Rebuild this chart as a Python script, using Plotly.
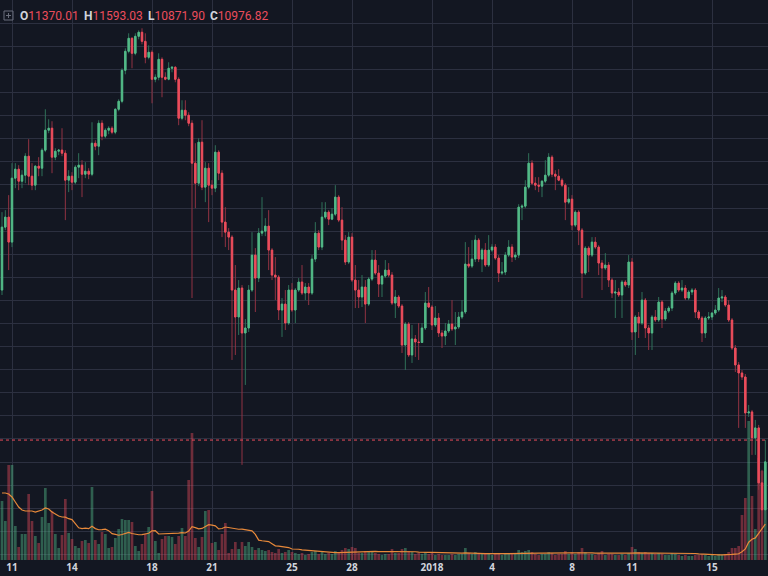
import pandas as pd
import numpy as np
import plotly.graph_objects as go

# ---------------- data (4h candles, BTC/USD) ----------------
start_time = "2017-12-10 12:00"
n_bars = 230

open_ = [14225, 15587, 15804, 15263, 16647, 16842, 16582, 16712, 17123, 16690,
         16496, 16907, 16864, 17253, 17686, 17729, 17102, 17231, 17255, 17188,
         16604, 16690, 16561, 16886, 16929, 16733, 16798, 16733, 17404, 17339,
         17837, 17556, 17686, 17729, 17643, 18139, 18312, 18983, 19394, 19676,
         19351, 19719, 19806, 19610, 19265, 19373, 18788, 18832, 19221, 18832,
         18790, 19027, 19049, 18788, 17945, 18118, 18010, 17837, 16972, 16539,
         17426, 16453, 16864, 16496, 16431, 17210, 16755, 15696, 15479, 15371,
         14225, 13641, 14268, 13295, 13403, 14225, 14982, 14484, 15457, 15500,
         15609, 15090, 14549, 14506, 13792, 13921, 13511, 14225, 13792, 14225,
         14398, 14160, 14290, 14160, 14895, 15457, 15155, 15804, 15912, 15760,
         15868, 16237, 15739, 15306, 14831, 15371, 14441, 14225, 14074, 14290,
         13921, 14462, 14874, 14592, 14354, 14527, 14657, 14549, 13943, 14074,
         13878, 13035, 13489, 12819, 13165, 13100, 13090, 13403, 13943, 13857,
         13468, 13619, 13295, 13230, 13338, 13489, 13381, 13425, 13641, 13749,
         14787, 14744, 14895, 15306, 14895, 15090, 14766, 15090, 15155, 14917,
         14592, 14614, 14982, 15155, 14939, 14982, 16020, 16041, 16453, 16972,
         16539, 16496, 16474, 16582, 16712, 17102, 16733, 16690, 16604, 16496,
         16128, 16193, 15631, 15912, 15522, 14592, 15133, 14982, 15263, 15155,
         14809, 14701, 14766, 14441, 14160, 14182, 14117, 14398, 14333, 14831,
         13317, 13641, 13511, 14008, 13403, 13295, 13641, 13576, 13965, 13597,
         13770, 13835, 14160, 14376, 14225, 14268, 14052, 14182, 14225, 13749,
         13619, 13295, 13619, 13641, 13727, 13792, 14052, 14074, 13900, 13576,
         12970, 12603, 12429, 12343, 11564, 11586, 11024, 11240, 10050, 9466]

high = [15912, 15955, 16280, 16972, 16972, 16929, 16820, 17188, 17491, 16972,
        16929, 17102, 17296, 18139, 17923, 17880, 17296, 17274, 17729, 17253,
        16820, 16777, 16929, 17188, 17037, 16994, 16864, 17859, 17469, 17902,
        17902, 17729, 17772, 17772, 18161, 18356, 19027, 19459, 19784, 19698,
        19784, 19849, 19892, 19784, 19524, 19416, 18896, 19351, 19265, 18940,
        19157, 19070, 19070, 18832, 18334, 18334, 18075, 17902, 17404, 17513,
        17902, 16994, 16972, 16604, 17361, 17253, 16820, 16020, 15566, 15414,
        14766, 14441, 14333, 13597, 14333, 15479, 15133, 15566, 16237, 15782,
        15955, 15133, 14939, 14549, 14052, 14225, 14333, 14376, 14268, 14484,
        14766, 14376, 14376, 14982, 15696, 15522, 16128, 16128, 15955, 15998,
        16496, 16280, 16020, 15414, 15479, 15457, 14766, 14441, 14549, 14441,
        14506, 15090, 15090, 14766, 14549, 14874, 14809, 14614, 14225, 14117,
        13921, 13533, 13533, 13468, 13252, 13511, 13511, 14182, 14290, 13900,
        13878, 13727, 13360, 13511, 13576, 14008, 13749, 13749, 14008, 15263,
        15155, 15306, 15414, 15349, 15133, 15241, 15414, 15219, 15219, 14982,
        14831, 15047, 15306, 15219, 15047, 16084, 16084, 16604, 17188, 17037,
        16669, 16669, 16604, 17037, 17188, 17145, 16820, 16842, 16647, 16539,
        16453, 16280, 15955, 15955, 15566, 15176, 15176, 15371, 15371, 15198,
        14874, 15025, 14831, 14484, 14441, 14268, 14441, 14441, 14982, 14917,
        13684, 13749, 14182, 14052, 13468, 13684, 13792, 14074, 14008, 13835,
        13878, 14203, 14419, 14419, 14441, 14333, 14225, 14268, 14268, 13792,
        13662, 13662, 13749, 13749, 13900, 14268, 14225, 14117, 14008, 13619,
        13035, 12668, 12494, 12407, 11737, 11629, 11413, 11305, 10331, 10980]

low = [14117, 15522, 14657, 15155, 16431, 16388, 16431, 16539, 16496, 16388,
       16388, 16690, 16690, 17210, 17621, 16755, 17037, 17145, 17123, 15739,
       16345, 16388, 16517, 16647, 16237, 16647, 16625, 16690, 17253, 17145,
       17469, 17513, 17599, 17599, 17599, 18096, 18269, 18896, 19351, 19027,
       19308, 19654, 19545, 19135, 19221, 18269, 18724, 18767, 18400, 18767,
       18767, 18940, 18724, 17794, 17902, 17902, 17772, 14052, 15998, 16474,
       16388, 16128, 15696, 16280, 16345, 16604, 15371, 15155, 15090, 12711,
       12819, 13252, 10440, 12170, 13317, 14182, 13749, 14398, 15392, 15392,
       14657, 14441, 14008, 13576, 13209, 13360, 13468, 13749, 13511, 14182,
       14117, 14008, 13900, 14117, 14831, 15090, 15090, 15760, 15631, 15739,
       15825, 15696, 15090, 14766, 14787, 14398, 13835, 13835, 13857, 13511,
       13878, 14419, 14549, 14074, 14074, 14484, 14506, 13900, 13619, 13835,
       12862, 12494, 12776, 12646, 12776, 12711, 13080, 13360, 13835, 13360,
       13425, 13209, 12970, 13035, 13295, 13338, 13035, 13381, 13597, 13705,
       14701, 14701, 14831, 14831, 14614, 14723, 14723, 15047, 14874, 14398,
       14549, 14549, 14939, 14831, 14874, 14917, 15739, 15998, 16409, 16496,
       16388, 16345, 16237, 16539, 16669, 16669, 16388, 16582, 16453, 15739,
       16084, 15522, 15587, 15198, 14052, 14549, 14614, 14939, 15111, 14549,
       14225, 14657, 14290, 14052, 13619, 14074, 13619, 14290, 14268, 13143,
       12819, 13187, 13468, 13187, 12927, 12927, 13533, 13533, 13403, 13554,
       13727, 13770, 14117, 14182, 14182, 14008, 14008, 14117, 13619, 13576,
       13100, 13187, 13576, 13576, 13684, 13749, 13965, 13857, 13533, 12927,
       12451, 11240, 12278, 11240, 11478, 10656, 10656, 9899, 9142, 9250]

close = [15587, 15804, 15263, 16647, 16842, 16582, 16712, 17123, 16690, 16496,
         16907, 16864, 17253, 17686, 17729, 17102, 17231, 17255, 17188, 16604,
         16690, 16561, 16886, 16929, 16733, 16798, 16733, 17404, 17339, 17837,
         17556, 17686, 17729, 17643, 18139, 18312, 18983, 19394, 19676, 19351,
         19719, 19806, 19610, 19265, 19373, 18788, 18832, 19221, 18832, 18790,
         19027, 19049, 18788, 17945, 18118, 18010, 17837, 16972, 16539, 17426,
         16453, 16864, 16496, 16431, 17210, 16755, 15696, 15479, 15371, 14225,
         13641, 14268, 13295, 13403, 14225, 14982, 14484, 15457, 15500, 15609,
         15090, 14549, 14506, 13792, 13921, 13511, 14225, 13792, 14225, 14398,
         14160, 14290, 14160, 14895, 15457, 15155, 15804, 15912, 15760, 15868,
         16237, 15739, 15306, 14831, 15371, 14441, 14225, 14074, 14290, 13921,
         14462, 14874, 14592, 14354, 14527, 14657, 14549, 13943, 14074, 13878,
         13035, 13489, 12819, 13165, 13100, 13090, 13403, 13943, 13857, 13468,
         13619, 13295, 13230, 13338, 13489, 13381, 13425, 13641, 13749, 14787,
         14744, 14895, 15306, 14895, 15090, 14766, 15090, 15155, 14917, 14592,
         14614, 14982, 15155, 14939, 14982, 16020, 16041, 16453, 16972, 16539,
         16496, 16474, 16582, 16712, 17102, 16733, 16690, 16604, 16496, 16128,
         16193, 15631, 15912, 15522, 14592, 15133, 14982, 15263, 15155, 14809,
         14701, 14766, 14441, 14160, 14182, 14117, 14398, 14333, 14831, 13317,
         13641, 13511, 14008, 13403, 13295, 13641, 13576, 13965, 13597, 13770,
         13835, 14160, 14376, 14225, 14268, 14052, 14182, 14225, 13749, 13619,
         13295, 13619, 13641, 13727, 13792, 14052, 14074, 13900, 13576, 12970,
         12603, 12429, 12343, 11564, 11586, 11024, 11240, 10050, 9466, 10505]

volume = [11800, 7800, 19000, 19000, 6800, 2600, 5200, 5200, 13200, 7800,
          4800, 3400, 8600, 14400, 7400, 9800, 5200, 2400, 5000, 12200,
          5400, 4200, 2800, 2400, 3800, 4000, 3400, 14600, 4000, 3200,
          5600, 5200, 2400, 2600, 4400, 6200, 8200, 8000, 8000, 7600,
          2800, 1800, 3200, 5200, 6600, 13800, 3800, 1400, 4200, 4800,
          4800, 4600, 3200, 4800, 6400, 4800, 16000, 25400, 4400, 2600,
          4600, 9800, 10000, 3400, 3600, 2000, 5200, 7400, 1400, 2200,
          3600, 2200, 3600, 2800, 3600, 2600, 2000, 2400, 2000, 1800,
          2000, 1600, 1400, 2200, 1400, 1600, 2000, 1600, 1400, 1200,
          1400, 1000, 1200, 1600, 1800, 1200, 1600, 1200, 1400, 1200,
          1800, 1600, 2000, 2400, 2200, 2600, 2400, 1400, 1400, 1800,
          1600, 1600, 1400, 1200, 1000, 1200, 1200, 2200, 1400, 1400,
          2200, 2400, 1800, 1600, 1200, 1400, 1200, 1600, 1200, 1400,
          1000, 1200, 1000, 1000, 1000, 1200, 1000, 1200, 1200, 2400,
          1400, 1200, 1600, 1400, 1200, 1400, 1400, 1000, 1200, 1400,
          1000, 1200, 1200, 1400, 1200, 2000, 1600, 1800, 2000, 1600,
          1200, 1000, 1200, 1200, 1600, 1400, 1000, 1200, 1200, 1800,
          1200, 1600, 1200, 1600, 2400, 1600, 1200, 1200, 1000, 1400,
          1800, 1000, 1200, 1200, 1000, 1000, 1200, 1000, 1400, 2600,
          2200, 1600, 1400, 1600, 1400, 1400, 1200, 1400, 1200, 1000,
          1000, 1400, 1200, 1000, 800, 1000, 800, 800, 1000, 1000,
          1200, 1000, 800, 1000, 800, 1200, 1000, 1200, 1600, 2400,
          2400, 2800, 9000, 12400, 27800, 12800, 6200, 20400, 17800, 19400]

# MA(20) of volume for the first bars (earlier bars are off-screen)
vol_ma_head = [13400, 13400, 13200, 12600, 11600, 10600, 10000, 9800, 9800, 9800,
               9600, 9800, 10000, 10400, 10200, 9600, 9200, 8800, 8600]
ma_length = 20

tick_dates = ["2017-12-11", "2017-12-14", "2017-12-18", "2017-12-21", "2017-12-25",
              "2017-12-28", "2018-01-01", "2018-01-04", "2018-01-08", "2018-01-11",
              "2018-01-15"]
tick_labels = ["11", "14", "18", "21", "25", "28", "2018", "4", "8", "11", "15"]

header_values = {"O": "11370.01", "H": "11593.03", "L": "10871.90", "C": "10976.82"}
last_price = 10976.82

# ---------------- styling ----------------
BG = "#131722"
GRID = "#2c3040"
UP = "#53b987"
DOWN = "#eb4d5c"
UP_WICK = "#2f7058"
DOWN_WICK = "#913343"
W, H = 768, 576
MB = 16
PH = H - MB

times = pd.date_range(start_time, periods=n_bars, freq="4h")
o = np.array(open_, float)
c = np.array(close, float)
body_hi = np.maximum(o, c)
body_lo = np.minimum(o, c)
vol = pd.Series(volume, dtype=float)
vol_ma = vol.rolling(ma_length).mean()
vol_ma.iloc[:len(vol_ma_head)] = vol_ma_head
vol_colors = ["rgba(83,185,135,0.45)" if cc >= oo else "rgba(235,77,92,0.42)"
              for oo, cc in zip(open_, close)]

fig = go.Figure()

# volume (base axis, drawn underneath)
fig.add_trace(go.Bar(x=times, y=volume, marker=dict(color=vol_colors, line=dict(width=0)),
                     yaxis="y", hoverinfo="skip"))
fig.add_trace(go.Scatter(x=times, y=vol_ma, mode="lines", yaxis="y",
                         line=dict(color="#e8893a", width=1.2), hoverinfo="skip"))

# wicks
fig.add_trace(go.Candlestick(
    x=times, open=open_, high=high, low=low, close=close, yaxis="y2",
    increasing=dict(line=dict(color=UP_WICK, width=1), fillcolor=UP_WICK),
    decreasing=dict(line=dict(color=DOWN_WICK, width=1), fillcolor=DOWN_WICK),
    whiskerwidth=0, hoverinfo="skip"))
# bodies
fig.add_trace(go.Candlestick(
    x=times, open=open_, high=body_hi, low=body_lo, close=close, yaxis="y2",
    increasing=dict(line=dict(color=UP, width=1), fillcolor=UP),
    decreasing=dict(line=dict(color=DOWN, width=1), fillcolor=DOWN),
    whiskerwidth=0, hoverinfo="skip"))

x0 = pd.Timestamp("2017-12-10 09:36")
x1 = pd.Timestamp("2018-01-17 19:12")

def px(xp):
    return xp / W

def py(yp):
    return 1 - yp / PH

shapes = [
    dict(type="line", xref="paper", x0=0, x1=1, yref="y2", y0=last_price, y1=last_price,
         line=dict(color=DOWN, width=1, dash="dot"), layer="above"),
    dict(type="rect", xref="paper", yref="paper", x0=px(4), x1=px(13), y0=py(20), y1=py(11),
         line=dict(color="#6b6f7c", width=1)),
    dict(type="line", xref="paper", yref="paper", x0=px(6), x1=px(11), y0=py(15.5), y1=py(15.5),
         line=dict(color="#6b6f7c", width=1)),
    dict(type="line", xref="paper", yref="paper", x0=px(8.5), x1=px(8.5), y0=py(13), y1=py(18),
         line=dict(color="#6b6f7c", width=1)),
]

annotations = []
letter_x = {"O": 18, "H": 82, "L": 146, "C": 208}
for k, v in header_values.items():
    annotations.append(dict(xref="paper", yref="paper", x=px(letter_x[k]), y=py(16),
                            xanchor="left", yanchor="middle", showarrow=False,
                            text=f"<b>{k}</b><span style='color:{DOWN}'>{v}</span>",
                            font=dict(family="Roboto", size=12, color="#d1d4dc")))

fig.update_layout(
    width=W, height=H,
    margin=dict(l=0, r=0, t=0, b=MB, autoexpand=False),
    paper_bgcolor=BG, plot_bgcolor=BG,
    showlegend=False, boxgap=0.4, bargap=0.2,
    xaxis=dict(type="date", range=[x0, x1], tickvals=pd.to_datetime(tick_dates),
               ticktext=tick_labels, showgrid=True, gridcolor=GRID, gridwidth=1,
               zeroline=False, showline=False, ticks="", ticklabelstandoff=0,
               automargin=False,
               tickfont=dict(family="Open Sans", size=10, color="#d1d4dc", weight="bold"),
               rangeslider=dict(visible=False), fixedrange=True),
    yaxis=dict(range=[0, 112000], showgrid=False, showticklabels=False, zeroline=False,
               automargin=False, fixedrange=True),
    yaxis2=dict(range=[8380, 20505], overlaying="y", side="right", showgrid=True,
                gridcolor=GRID, gridwidth=1, dtick=500, tick0=0, showticklabels=False,
                automargin=False, zeroline=False, fixedrange=True),
    shapes=shapes, annotations=annotations,
)

fig.write_html("out.html")
